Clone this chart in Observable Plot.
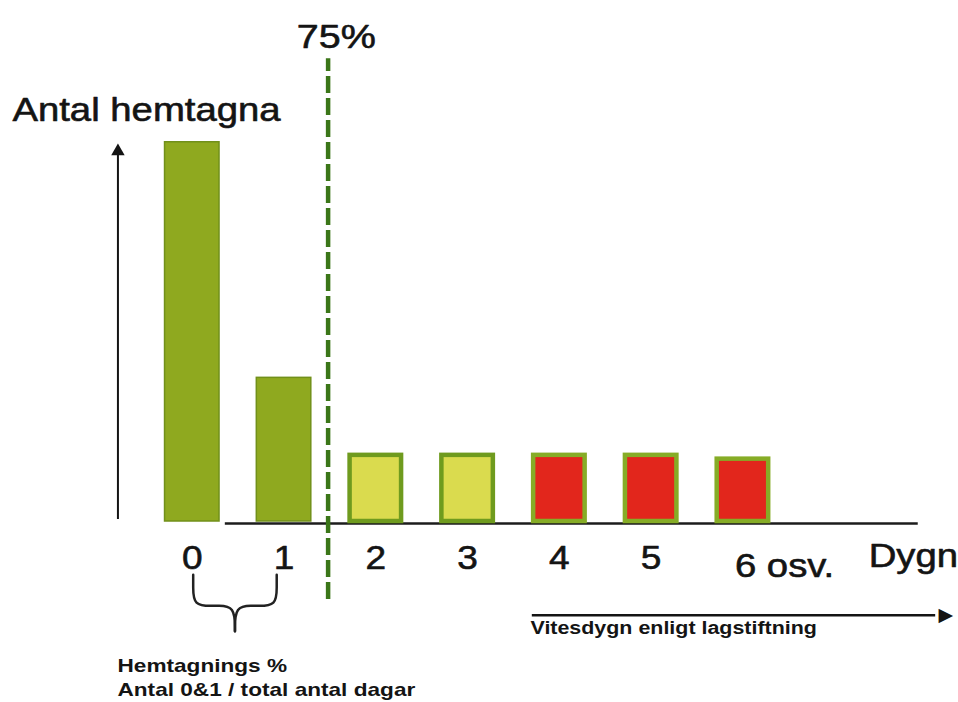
<!DOCTYPE html>
<html>
<head>
<meta charset="utf-8">
<script src="https://cdn.jsdelivr.net/npm/d3@7"></script>
<script src="https://cdn.jsdelivr.net/npm/@observablehq/plot@0.6"></script>
<style>
  html, body { margin: 0; padding: 0; background: #fff; }
  #chart svg { display: block; }
</style>
</head>
<body>
<div id="chart"></div>
<script>
// ---- data ----
const days = [0, 1, 2, 3, 4, 5, 6];
const counts = [100, 38, 18, 18, 18, 18, 17];   // relative "Antal hemtagna"
const zones = ["hemtagning", "hemtagning", "gul", "gul", "vite", "vite", "vite"];
const dayLabels = ["0", "1", "2", "3", "4", "5", "6 osv."];
const thresholdLabel = "75%";
const thresholdDay = 1.48;
const yTitle = "Antal hemtagna";
const xTitle = "Dygn";
const arrowLabel = "Vitesdygn enligt lagstiftning";
const noteLines = ["Hemtagnings %", "Antal 0&1 / total antal dagar"];

// ---- styling ----
const fills = { hemtagning: "#8fa91f", gul: "#dadb4e", vite: "#e2261c" };
const strokes = { hemtagning: "#71901a", gul: "#6f9b1e", vite: "#86ac26" };
const ink = "#141414";
const font = "'Liberation Sans', Arial, Helvetica, sans-serif";

const bars = days.map((d, i) => ({ day: d, count: counts[i], zone: zones[i], label: dayLabels[i] }));
const half = 0.305;

// brace (annotation shape) spanning days 0..1
function brace(x0, x1, yTop, yMid, yTip) {
  const c = (x0 + x1) / 2;
  const left = [[x0, yTop], [x0, yTop - 3], [x0, yMid], [x0 + 0.22, yMid], [c - 0.2, yMid], [c, yMid], [c, yTip]];
  const pts = [];
  left.forEach(([x, y]) => pts.push({ x, y, side: "L" }));
  left.forEach(([x, y]) => pts.push({ x: 2 * c - x, y, side: "R" }));
  return pts;
}
const braceData = brace(0.01, 0.92, -14, -22.2, -28.9);

const big = { fontSize: 33, lineAnchor: "bottom", fill: ink, stroke: ink, strokeWidth: 0.6 };
const small = { fontSize: 19, fontWeight: "bold", textAnchor: "start", lineAnchor: "bottom", fill: ink };

const chart = Plot.plot({
  width: 958,
  height: 702,
  marginLeft: 100,
  marginRight: 32,
  marginTop: 141,
  marginBottom: 181,
  x: { domain: [-1, 8], axis: null },
  y: { domain: [0, 100], axis: null },
  color: { type: "identity" },
  style: { fontFamily: font, background: "#fff", overflow: "visible" },
  marks: [
    // baseline axis
    Plot.ruleY([-0.5], { x1: 0.36, x2: 7.91, stroke: "#1c1c1c", strokeWidth: 2.5 }),
    // olive bars (0, 1)
    Plot.rect(bars.filter(d => d.zone === "hemtagning"), {
      x1: d => d.day - half, x2: d => d.day + half, y1: 0, y2: "count",
      fill: d => fills[d.zone], stroke: d => strokes[d.zone], strokeWidth: 1.5,
      insetLeft: 0.75, insetRight: 0.75, insetTop: 0.75
    }),
    // bordered bars (2..6)
    Plot.rect(bars.filter(d => d.zone !== "hemtagning"), {
      x1: d => d.day - half, x2: d => d.day + half, y1: 0, y2: "count",
      fill: d => fills[d.zone], stroke: d => strokes[d.zone], strokeWidth: 4.5,
      insetLeft: 2.25, insetRight: 2.25, insetTop: 2.25
    }),
    // 75% dashed threshold
    Plot.ruleX([thresholdDay], { y1: -20.5, y2: 121.8, stroke: "#3b7618", strokeWidth: 4.5, strokeDasharray: "17,5" }),
    Plot.text([thresholdLabel], { ...big, x: thresholdDay + 0.09, y: 124.7, text: d => d, fontSize: 34 }),
    // y-axis arrow
    Plot.ruleX([-0.81], { y1: 0.5, y2: 97, stroke: ink, strokeWidth: 2 }),
    Plot.dot([0], { x: -0.81, y: 97.4, symbol: "triangle", r: 5, fill: ink, stroke: "none" }),
    Plot.text([yTitle], { ...big, x: -1.96, y: 105.5, text: d => d, textAnchor: "start" }),
    // day labels
    Plot.text(bars.filter(d => d.day < 6), { ...big, x: "day", y: -12.4, text: "label" }),
    Plot.text(bars.filter(d => d.day === 6), { ...big, x: "day", y: -14.5, dx: -8, text: "label", textAnchor: "start" }),
    Plot.text([xTitle], { ...big, x: 7.37, y: -12.1, text: d => d, textAnchor: "start" }),
    // brace under 0 and 1
    Plot.line(braceData, { x: "x", y: "y", z: "side", curve: "basis", stroke: "#222", strokeWidth: 2.5 }),
    // "Vitesdygn" arrow
    Plot.ruleY([-24.7], { x1: 3.705, x2: 8.1, stroke: ink, strokeWidth: 2.5 }),
    Plot.text(["\u25B6"], { x: 8.29, y: -24.7, text: d => d, fontSize: 19, fontFamily: "'DejaVu Sans'", textAnchor: "end", lineAnchor: "middle", fill: ink }),
    Plot.text([arrowLabel], { ...small, x: 3.685, y: -29.5, text: d => d, fontSize: 18 }),
    // note under the brace
    Plot.text(noteLines, { ...small, x: -0.815, y: (d, i) => i === 0 ? -39.7 : -46.0, text: d => d })
  ]
});

document.getElementById("chart").appendChild(chart);

// reference lettering is horizontally stretched: widen each text run
chart.querySelectorAll("text").forEach(t => {
  if (t.textContent === "\u25B6") return;
  const bold = t.closest("g[font-weight]") != null;
  const k = bold ? 1.19 : (t.textContent.length > 1 ? 1.16 : 1.12);
  const len = t.getComputedTextLength();
  if (len > 0) {
    t.setAttribute("textLength", (len * k).toFixed(1));
    t.setAttribute("lengthAdjust", "spacingAndGlyphs");
  }
});
</script>
</body>
</html>
